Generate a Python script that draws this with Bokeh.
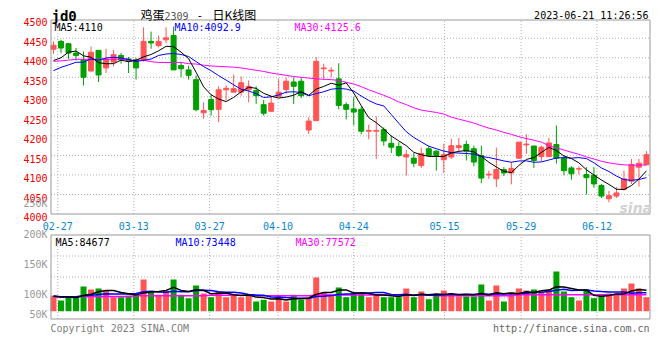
import numpy as np
from bokeh.plotting import figure
from bokeh.models import Range1d, Label, ColumnDataSource
from bokeh.embed import file_html
from bokeh.resources import INLINE

# ---------------- data ----------------
tick_labels = ["02-27", "03-13", "03-27", "04-10", "04-24", "05-15", "05-29", "06-12"]
tick_pos = [0.57, 10.7, 20.8, 29.9, 40.0, 52.1, 62.3, 72.4]

open_ = [4422, 4442, 4436, 4412, 4395, 4366, 4419, 4374, 4389, 4406,
         4397, 4395, 4395, 4442, 4431, 4446, 4457, 4380, 4369, 4344,
         4259, 4293, 4268, 4318, 4312, 4312, 4318, 4316, 4280, 4263,
         4301, 4319, 4338, 4340, 4215, 4239, 4372, 4366, 4346, 4280,
         4269, 4268, 4212, 4212, 4216, 4181, 4173, 4146, 4143, 4124,
         4167, 4161, 4139, 4146, 4170, 4178, 4167, 4150, 4100, 4090,
         4114, 4105, 4143, 4177, 4174, 4147, 4147, 4178, 4143, 4118,
         4115, 4101, 4099, 4073, 4039, 4046, 4063, 4084, 4120, 4126]
high = [4442, 4446, 4438, 4425, 4416, 4429, 4419, 4423, 4420, 4412,
        4402, 4400, 4478, 4467, 4457, 4478, 4480, 4390, 4380, 4355,
        4286, 4306, 4327, 4330, 4357, 4352, 4342, 4327, 4292, 4302,
        4346, 4349, 4350, 4349, 4248, 4402, 4385, 4376, 4386, 4286,
        4299, 4275, 4229, 4250, 4222, 4201, 4184, 4164, 4156, 4170,
        4175, 4163, 4180, 4193, 4195, 4188, 4175, 4175, 4111, 4170,
        4120, 4133, 4184, 4204, 4175, 4175, 4195, 4227, 4150, 4122,
        4122, 4120, 4120, 4077, 4059, 4069, 4111, 4141, 4141, 4161]
low = [4410, 4412, 4397, 4393, 4329, 4366, 4338, 4361, 4378, 4385,
       4361, 4344, 4390, 4423, 4427, 4437, 4369, 4350, 4344, 4263,
       4244, 4252, 4235, 4291, 4312, 4303, 4286, 4282, 4252, 4263,
       4299, 4308, 4282, 4297, 4205, 4238, 4344, 4350, 4268, 4242,
       4227, 4204, 4191, 4141, 4175, 4156, 4146, 4099, 4120, 4118,
       4148, 4111, 4105, 4141, 4158, 4137, 4122, 4079, 4090, 4069,
       4097, 4076, 4141, 4154, 4118, 4135, 4147, 4129, 4099, 4088,
       4101, 4050, 4067, 4041, 4030, 4041, 4060, 4077, 4070, 4126]
close = [4432, 4425, 4412, 4406, 4350, 4414, 4356, 4397, 4408, 4395,
         4393, 4374, 4442, 4438, 4442, 4451, 4369, 4372, 4355, 4267,
         4265, 4267, 4318, 4322, 4321, 4336, 4327, 4303, 4258, 4284,
         4312, 4340, 4327, 4303, 4238, 4391, 4374, 4368, 4278, 4268,
         4261, 4212, 4214, 4214, 4187, 4171, 4150, 4152, 4130, 4155,
         4150, 4150, 4152, 4175, 4175, 4161, 4133, 4092, 4102, 4114,
         4105, 4117, 4184, 4179, 4137, 4171, 4182, 4143, 4111, 4103,
         4116, 4093, 4077, 4046, 4047, 4054, 4090, 4127, 4130, 4152]
volume = [62400, 43300, 56700, 56700, 100000, 87900, 91900, 83800, 56700, 56700,
          62400, 66400, 128400, 75700, 66400, 83800, 128400, 66400, 52700, 104100,
          71700, 56700, 79800, 56700, 66400, 56700, 66400, 39300, 46200, 39300,
          62400, 39300, 66400, 46200, 52700, 136500, 75700, 66400, 96000, 56700,
          75700, 71700, 56700, 68900, 56700, 56700, 56700, 91900, 56700, 79800,
          48600, 68900, 83800, 71700, 59500, 59500, 59500, 108100, 43300, 104100,
          39300, 75700, 91900, 83800, 87900, 75700, 87900, 160800, 79800, 56700,
          43300, 87900, 52700, 62400, 71700, 71700, 91900, 112200, 91900, 56700]
# days before the first shown candle (only feed the moving averages)
prev_close = [4340, 4350, 4338, 4348, 4329, 4390, 4340, 4392, 4411]
prev_volume = [61000, 58000, 63000, 60000, 59000, 62000, 57000, 64000, 60000]
ma30_price = [4391, 4392, 4394, 4396, 4396, 4396, 4396, 4396, 4396, 4396,
              4394, 4394, 4394, 4390, 4388, 4388, 4388, 4388, 4385, 4384,
              4381, 4379, 4378, 4377, 4376, 4374, 4371, 4368, 4365, 4361,
              4358, 4355, 4352, 4350, 4348, 4346, 4345, 4344, 4342, 4337,
              4333, 4326, 4318, 4311, 4304, 4296, 4287, 4280, 4272, 4266,
              4263, 4260, 4256, 4248, 4243, 4238, 4233, 4226, 4220, 4215,
              4209, 4204, 4198, 4193, 4189, 4184, 4175, 4169, 4164, 4158,
              4153, 4146, 4141, 4135, 4131, 4128, 4126, 4125, 4125, 4125.6]
ma30_volume = [58300, 58300, 58300, 58300, 59500, 59500, 59500, 59500, 59500, 59500,
               59500, 62800, 62800, 62800, 62800, 62800, 62800, 62800, 62800, 62800,
               62800, 64800, 64800, 64800, 64800, 64800, 64800, 64800, 62400, 62400,
               62400, 62400, 62400, 62400, 62400, 65600, 65600, 65600, 65600, 65600,
               65600, 65600, 65600, 65600, 65600, 65600, 65600, 65600, 65600, 65600,
               65600, 62400, 62400, 62400, 62400, 62400, 62400, 62400, 62400, 62400,
               62400, 62400, 66400, 66400, 66400, 66400, 66400, 66400, 66400, 66400,
               66400, 66400, 66400, 66400, 66400, 66400, 66400, 66400, 66400, 66400]
price_ticks = [4000, 4050, 4100, 4150, 4200, 4250, 4300, 4350, 4400, 4450, 4500]
vol_tick_labels = ["250K", "200K", "150K", "100K", "50K"]
price_ma_text = ["MA5:4110", "MA10:4092.9", "MA30:4125.6"]
vol_ma_text = ["MA5:84677", "MA10:73448", "MA30:77572"]
ma_colors = ["#000000", "#0000ff", "#ff00ff"]

# ---------------- layout helpers (reference pixel -> data) ----------------
W, H = 652, 344
STEP = 7.506      # px per trading day
X0 = 53.0         # x of first candle
def xr(px):
    return (px - X0) / STEP
def pr(py):       # pixel y -> price
    return 4546.6 - 2.56 * py
def py_of_price(pv):
    return (4546.6 - pv) / 2.56
def vr(py):       # pixel y -> volume
    return (310.7 - py) * 4050.0

n = len(close)
idx = np.arange(n)
up = [c >= o for o, c in zip(open_, close)]
RED, GREEN = "#ff5555", "#00a000"
colors = [RED if u else GREEN for u in up]

def moving(prev, vals, k):
    full = np.array(prev + vals, dtype=float)
    return [full[j - k + 1:j + 1].mean() for j in range(len(prev), len(full))]

ma5 = moving(prev_close, close, 5)
ma10 = moving(prev_close, close, 10)
vma5 = moving(prev_volume, volume, 5)
vma10 = moving(prev_volume, volume, 10)

p = figure(width=W, height=H, output_backend="svg", toolbar_location=None,
           x_axis_location=None, y_axis_location=None,
           x_range=Range1d(xr(0), xr(W)), y_range=Range1d(pr(H), pr(0)),
           min_border_left=0, min_border_right=0, min_border_top=0, min_border_bottom=0)
p.extra_y_ranges = {"vol": Range1d(vr(H), vr(0))}
p.outline_line_color = None
p.grid.visible = False
p.background_fill_color = "white"
p.border_fill_color = "white"

GRID = "#b0b0b0"
BORDER = "#999999"
xl, xrt = xr(50.5), xr(649.5)
ptop = 19.5

# grid lines - price panel
hp = price_ticks[1:-1]
p.segment(x0=[xl] * len(hp), x1=[xrt] * len(hp), y0=hp, y1=hp,
          line_color=GRID, line_dash="1 2", line_width=1)
p.segment(x0=tick_pos, x1=tick_pos, y0=[price_ticks[0]] * len(tick_pos),
          y1=[pr(ptop)] * len(tick_pos), line_color=GRID, line_dash="1 2", line_width=1)
# grid lines - volume panel
vtop, vbot = 234.5, 318.5
vh = [vr(vtop + (vbot - vtop) * k / 4) for k in (1, 2, 3)]
p.segment(x0=[xl] * 3, x1=[xrt] * 3, y0=vh, y1=vh, y_range_name="vol",
          line_color=GRID, line_dash="1 2", line_width=1)
p.segment(x0=tick_pos, x1=tick_pos, y0=[vr(vbot)] * len(tick_pos),
          y1=[vr(vtop)] * len(tick_pos), y_range_name="vol",
          line_color=GRID, line_dash="1 2", line_width=1)

# candles
src = ColumnDataSource(dict(x=idx, o=open_, h=high, l=low, c=close,
                            top=[max(a, b) for a, b in zip(open_, close)],
                            bot=[min(a, b) for a, b in zip(open_, close)],
                            col=colors, v=volume))
p.segment(x0="x", x1="x", y0="l", y1="h", color="col", line_width=1, source=src)
p.vbar(x="x", top="top", bottom="bot", width=5.0 / STEP, fill_color="col",
       line_color="col", line_width=1, source=src)

# volume bars
p.vbar(x="x", top="v", bottom=0, width=6.0 / STEP, fill_color="col",
       line_color=None, y_range_name="vol", source=src)

# moving averages
for ys, col in zip([ma30_price, ma10, ma5], ma_colors[::-1]):
    p.line(idx, ys, line_color=col, line_width=1)
for ys, col in zip([ma30_volume, vma10, vma5], ma_colors[::-1]):
    p.line(idx, ys, line_color=col, line_width=1.5, y_range_name="vol")

# panel borders
p.quad(left=[xl], right=[xrt], bottom=[price_ticks[0]], top=[pr(ptop)],
       fill_color=None, line_color=BORDER, line_width=1)
p.quad(left=[xl], right=[xrt], bottom=[vr(vbot)], top=[vr(vtop)], y_range_name="vol",
       fill_color=None, line_color=BORDER, line_width=1)

MONO = "DejaVu Sans Mono"
def txt(px, py, s, color="#000000", size="10px", align="left", font=MONO, style="normal"):
    p.add_layout(Label(x=xr(px), y=pr(py), text=s, text_color=color, text_font=font,
                       text_font_size=size, text_align=align, text_baseline="alphabetic",
                       text_font_style=style))

# price axis labels
for pv in price_ticks:
    txt(47, py_of_price(pv) + 3.3, str(pv), color="#ee0000", align="right")
# volume axis labels
for s, yy in zip(vol_tick_labels, [202.7, 234.0, 264.0, 294.0, 314.0]):
    txt(47, yy, s, color="#999999", align="right")
# date labels
for s, t in zip(tick_labels, tick_pos):
    txt(X0 + t * STEP, 225.2, s, color="#0a88d0", align="center")
# MA headers
for s, col, xx in zip(price_ma_text, ma_colors, [54, 174, 294]):
    txt(xx, 27.3, s, color=col)
for s, col, xx in zip(vol_ma_text, ma_colors, [55, 175, 295]):
    txt(xx, 242.2, s, color=col)

# title area
txt(51, 15.5, "jd0", size="14px", style="bold")
txt(140, 14.3, "鸡蛋", size="12px", font="Noto Sans CJK SC")
txt(164, 15.0, "2309", color="#555555", size="10px")
txt(196, 14.5, "-", size="11px")
txt(212, 14.3, "日K线图", size="12px", font="Noto Sans CJK SC")
txt(648, 15.0, "2023-06-21 11:26:56", align="right")

# watermark & footer
txt(619, 207, "sina", color="#d2d2d2", size="14px", font="DejaVu Sans", style="bold italic")
txt(50, 327.5, "Copyright 2023 SINA.COM", color="#808080")
txt(649, 327.5, "http://finance.sina.com.cn", color="#666666", align="right")

open("out.html", "w").write(file_html(p, INLINE))
